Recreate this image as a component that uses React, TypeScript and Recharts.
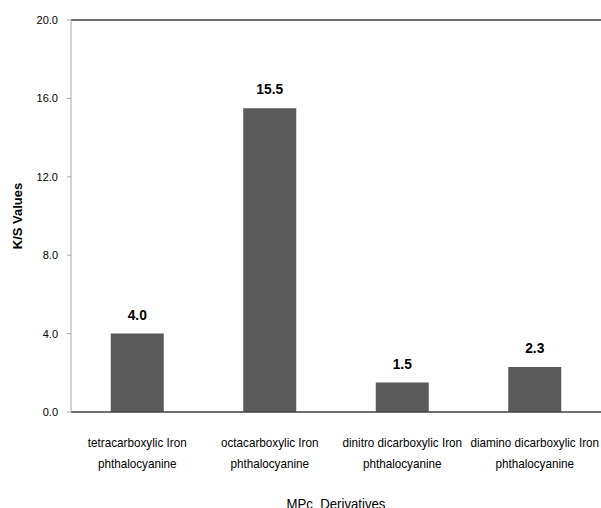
import React from "react";
import { BarChart, Bar, XAxis, YAxis, ReferenceLine, LabelList, Label } from "recharts";

const categories = [
  "tetracarboxylic Iron|phthalocyanine",
  "octacarboxylic Iron|phthalocyanine",
  "dinitro dicarboxylic Iron|phthalocyanine",
  "diamino dicarboxylic Iron|phthalocyanine",
];
const ksValues = [4.0, 15.5, 1.5, 2.3];
const yTicks = [0, 4, 8, 12, 16, 20];

const data = categories.map((c, i) => ({ name: c, value: ksValues[i] }));

const FONT = "'Liberation Sans', Arial, sans-serif";

const XTick = (props: any) => {
  const { x, y, payload } = props;
  const lines = String(payload.value).split("|");
  return (
    <g transform={`translate(${x},${y})`}>
      {lines.map((l: string, i: number) => (
        <text
          key={i}
          transform={`translate(0,${27 + i * 21}) scale(0.9,1)`}
          x={0}
          y={0}
          textAnchor="middle"
          fontSize={13}
          fill="#000"
          fontFamily={FONT}
        >
          {l}
        </text>
      ))}
    </g>
  );
};

const XTitle = (props: any) => {
  const vb = props.viewBox || {};
  const cx = (vb.x || 0) + (vb.width || 0) / 2;
  return (
    <text
      transform={`translate(${cx},509) scale(0.88,1)`}
      textAnchor="middle"
      fontSize={15}
      fill="#000"
      fontFamily={FONT}
      style={{ whiteSpace: "pre" }}
    >
      {"MPc  Derivatives"}
    </text>
  );
};

const BarValue = (props: any) => {
  const { x, y, width, value } = props;
  return (
    <text
      transform={`translate(${Number(x) + Number(width) / 2},${Number(y) - 14}) scale(0.92,1)`}
      textAnchor="middle"
      fontSize={15}
      fontWeight="bold"
      fill="#000"
      fontFamily={FONT}
    >
      {Number(value).toFixed(1)}
    </text>
  );
};

export default function App() {
  return (
    <div style={{ position: "absolute", left: 0, top: 0, background: "#fff" }}>
      <BarChart
        width={601}
        height={508}
        data={data}
        margin={{ top: 20, right: 0, bottom: 0, left: 0 }}
        barCategoryGap="30%"
      >
        <XAxis
          dataKey="name"
          tick={<XTick />}
          tickLine={false}
          axisLine={{ stroke: "#404040", strokeWidth: 1.5 }}
          height={96}
          interval={0}
        >
          <Label content={<XTitle />} />
        </XAxis>
        <YAxis
          domain={[0, 20]}
          ticks={yTicks}
          width={71}
          tickSize={4}
          tickMargin={9}
          tickFormatter={(v: number) => v.toFixed(1)}
          tick={{ fontSize: 11, fill: "#000", fontFamily: FONT }}
          axisLine={{ stroke: "#a6a6a6" }}
          tickLine={{ stroke: "#a6a6a6" }}
        >
          <Label
            value="K/S Values"
            angle={-90}
            position="insideLeft"
            offset={17}
            style={{ fontSize: 13, fontWeight: "bold", fill: "#000", textAnchor: "middle", fontFamily: FONT }}
          />
        </YAxis>
        <ReferenceLine y={20} stroke="#404040" strokeWidth={1.5} />
        <Bar dataKey="value" fill="#595959" isAnimationActive={false}>
          <LabelList dataKey="value" content={<BarValue />} />
        </Bar>
      </BarChart>
    </div>
  );
}
